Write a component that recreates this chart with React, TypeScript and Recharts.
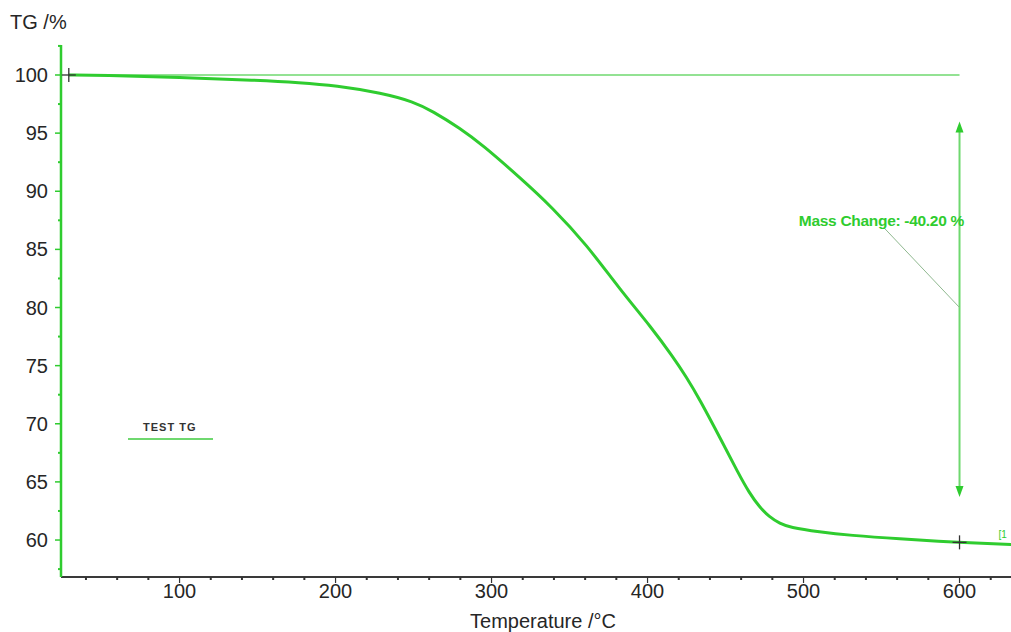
import {
  ComposedChart,
  Legend,
  Line,
  ReferenceDot,
  ReferenceLine,
  XAxis,
  YAxis,
} from 'recharts';

// TG curve (temperature in °C, mass in %)
const temps = [29, 50, 100, 150, 177, 200, 230, 250, 262, 280, 294, 318, 339, 361, 382, 403, 416, 425, 433, 448, 458, 465, 472, 478, 485, 491, 510, 530, 560, 600, 635];
const tgValues = [100.0, 99.97, 99.8, 99.55, 99.35, 99.1, 98.45, 97.7, 96.9, 95.4, 94.0, 91.2, 88.6, 85.4, 81.6, 78.2, 75.8, 74.0, 72.2, 68.4, 65.8, 64.1, 62.8, 62.0, 61.4, 61.1, 60.7, 60.4, 60.1, 59.8, 59.6];

const xTicks = [40, 60, 80, 100, 120, 140, 160, 180, 200, 220, 240, 260, 280, 300, 320, 340, 360, 380, 400, 420, 440, 460, 480, 500, 520, 540, 560, 580, 600, 620];
const yTicks = [57.5, 60, 62.5, 65, 67.5, 70, 72.5, 75, 77.5, 80, 82.5, 85, 87.5, 90, 92.5, 95, 97.5, 100, 102.5];

// evaluation markers: start / end of the mass step
const markTemps = [29, 600];
const markValues = [100.0, 59.8];
const massChangeLabel = 'Mass Change: -40.20 %';
const arrowFrom = 96;
const arrowTo = 63.7;
const leaderStart = { t: 552, v: 86.8 };
const leaderEnd = { t: 600, v: 80 };
const labelAt = { t: 497, v: 87.0 };
const endTagAt = { t: 625, v: 60.2 };

const data = temps.map((t, i) => ({ t, tg: tgValues[i] }));

const FONT = '"Liberation Sans", Arial, Helvetica, sans-serif';
const GREEN = '#2fcc2f';
const LIGHT_GREEN = '#6fd86f';
const TEXT = '#262626';

function XTick({ x, y, payload }: any) {
  const major = payload.value % 100 === 0;
  return (
    <g>
      <line x1={x} y1={y} x2={x} y2={y + (major ? 6 : 3)} stroke="#333" strokeWidth={major ? 1.2 : 2} />
      {major && (
        <text x={x} y={y + 21} textAnchor="middle" fill={TEXT} fontSize={20} fontFamily={FONT}>
          {payload.value}
        </text>
      )}
    </g>
  );
}

function YTick({ x, y, payload }: any) {
  const major = payload.value % 5 === 0;
  return (
    <g>
      <line x1={x - (major ? 6 : 3)} y1={y} x2={x} y2={y} stroke={GREEN} strokeWidth={major ? 1.5 : 2} />
      {major && (
        <text x={x - 13} y={y + 7} textAnchor="end" fill={TEXT} fontSize={20} fontFamily={FONT}>
          {payload.value}
        </text>
      )}
    </g>
  );
}

function Cross({ cx, cy }: any) {
  if (cx == null || cy == null) return null;
  return (
    <g stroke="#333" strokeWidth={1.3}>
      <line x1={cx - 7} y1={cy} x2={cx + 7} y2={cy} />
      <line x1={cx} y1={cy - 7} x2={cx} y2={cy + 7} />
    </g>
  );
}

function DoubleArrow({ x1, y1, x2, y2 }: any) {
  return (
    <g>
      <line x1={x1} y1={y1 + 8} x2={x2} y2={y2 - 8} stroke={LIGHT_GREEN} strokeWidth={2} />
      <polygon points={`${x1},${y1} ${x1 - 4},${y1 + 11} ${x1 + 4},${y1 + 11}`} fill={GREEN} />
      <polygon points={`${x2},${y2} ${x2 - 4},${y2 - 11} ${x2 + 4},${y2 - 11}`} fill={GREEN} />
    </g>
  );
}

function MassLabel({ cx, cy }: any) {
  if (cx == null || cy == null) return null;
  return (
    <text x={cx} y={cy} fill={GREEN} fontSize={15.5} fontWeight="bold" fontFamily={FONT} letterSpacing={-0.3}>
      {massChangeLabel}
    </text>
  );
}

function EndTag({ cx, cy }: any) {
  if (cx == null || cy == null) return null;
  return (
    <text x={cx} y={cy} fill={GREEN} fontSize={10} fontFamily={FONT}>
      [1
    </text>
  );
}

function LegendBox() {
  return (
    <svg width={90} height={26}>
      <text x={15} y={15} fontSize={11} fontWeight="bold" fontFamily={FONT} fill="#333" letterSpacing={1}>
        TEST  TG
      </text>
      <line x1={0} y1={23} x2={85} y2={23} stroke={LIGHT_GREEN} strokeWidth={2} />
    </svg>
  );
}

export default function App() {
  return (
    <div style={{ position: 'absolute', left: 0, top: 0, width: 1011, height: 632, background: '#fff' }}>
      <ComposedChart width={1011} height={632} data={data} margin={{ top: 45, right: 0, bottom: 0, left: 0 }}>
        <XAxis
          dataKey="t"
          type="number"
          domain={[24, 633]}
          allowDataOverflow
          ticks={xTicks}
          interval={0}
          tick={<XTick />}
          tickLine={false}
          tickSize={0}
          tickMargin={0}
          axisLine={{ stroke: '#3a3a3a', strokeWidth: 2 }}
          height={55}
          label={(props: any) => {
            const vb = props.viewBox;
            return (
              <text x={vb.x + vb.width / 2 + 7} y={vb.y + 51} textAnchor="middle" fill={TEXT} fontSize={20} fontFamily={FONT}>
                Temperature /°C
              </text>
            );
          }}
        />
        <YAxis
          type="number"
          domain={[56.82, 102.58]}
          allowDataOverflow
          ticks={yTicks}
          interval={0}
          tick={<YTick />}
          tickLine={false}
          tickSize={0}
          tickMargin={0}
          axisLine={{ stroke: GREEN, strokeWidth: 2.5 }}
          width={61}
          label={(props: any) => {
            const vb = props.viewBox;
            return (
              <text x={vb.x + 10} y={vb.y - 16} fill={TEXT} fontSize={20} fontFamily={FONT}>
                TG /%
              </text>
            );
          }}
        />
        <Legend
          layout="vertical"
          align="center"
          verticalAlign="middle"
          content={() => <LegendBox />}
          wrapperStyle={{ left: 128, top: 416, width: 90, height: 26 }}
        />
        <ReferenceLine
          segment={[
            { x: markTemps[0], y: markValues[0] },
            { x: markTemps[1], y: markValues[0] },
          ]}
          stroke={LIGHT_GREEN}
          strokeWidth={1.5}
        />
        <ReferenceLine
          segment={[
            { x: markTemps[1], y: arrowFrom },
            { x: markTemps[1], y: arrowTo },
          ]}
          shape={<DoubleArrow />}
        />
        <ReferenceLine
          segment={[
            { x: leaderStart.t, y: leaderStart.v },
            { x: leaderEnd.t, y: leaderEnd.v },
          ]}
          stroke="#8fb88f"
          strokeWidth={1}
        />
        <Line
          type="basis"
          dataKey="tg"
          stroke={GREEN}
          strokeWidth={3}
          dot={false}
          activeDot={false}
          isAnimationActive={false}
          legendType="none"
        />
        <ReferenceDot x={labelAt.t} y={labelAt.v} r={0} shape={<MassLabel />} />
        <ReferenceDot x={endTagAt.t} y={endTagAt.v} r={0} shape={<EndTag />} />
        {markTemps.map((t, i) => (
          <ReferenceDot key={t} x={t} y={markValues[i]} r={0} shape={<Cross />} />
        ))}
      </ComposedChart>
    </div>
  );
}
